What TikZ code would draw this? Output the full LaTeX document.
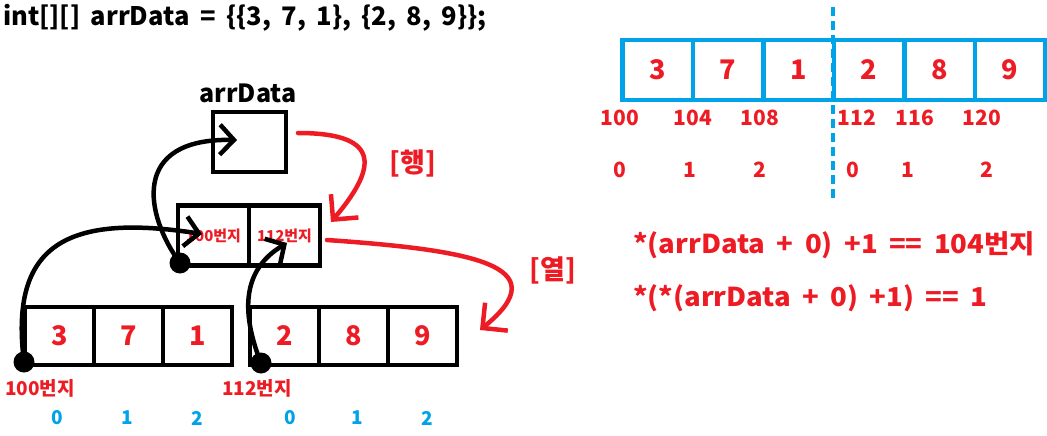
\documentclass[tikz,border=0pt]{standalone}
\usepackage{fontspec}
\setmainfont{Noto Sans CJK KR}
\newfontfamily\wfont{Noto Sans CJK KR}[WordSpace=1.8, FakeStretch=1.06]
\newfontfamily\tfont{Noto Sans CJK KR}[WordSpace=1.8]
\usetikzlibrary{arrows.meta}
\definecolor{pred}{RGB}{237,28,36}
\definecolor{pblue}{RGB}{0,162,232}
\newcommand{\fsz}[1]{\bfseries\fontsize{#1}{#1}\selectfont}
\newcommand{\wsz}[1]{\wfont\bfseries\fontsize{#1}{#1}\selectfont}
\newcommand{\tsz}[1]{\tfont\bfseries\fontsize{#1}{#1}\selectfont}
\tikzset{
  cell/.style={draw, line width=4.5pt, minimum width=69pt, minimum height=58pt, inner sep=0pt, text=pred, font=\fsz{27}},
  bcell/.style={cell, draw=pblue, minimum width=70.5pt, minimum height=60pt},
  pcell/.style={draw, line width=4.5pt, minimum width=71pt, minimum height=60pt, inner sep=0pt, text=pred, font=\fsz{15}},
  dot/.style={circle, fill=black, minimum size=21pt, inner sep=0pt},
  redtxt/.style={text=pred, inner sep=0pt},
  bluetxt/.style={text=pblue, inner sep=0pt, font=\fsz{19}},
  blk/.style={line width=4.5pt, line cap=round, line join=round, -{Straight Barb[length=14pt,width=30pt]}},
  rdl/.style={draw=pred, line width=4.5pt, line cap=round, line join=round, -{Straight Barb[length=18pt,width=36pt]}},
}
\begin{document}
\begin{tikzpicture}[x=1pt,y=-1pt]
\useasboundingbox (0,0) rectangle (1047,436);
% title
\node[anchor=west, inner sep=0pt, font=\tsz{25.5}] (title) at (3,18) {int[][] arrData = \{\{3, 7, 1\}, \{2, 8, 9\}\};};
% arrData pointer
\node[inner sep=0pt, font=\fsz{25}] (lbl) at (248,93) {arrData};
\node[draw, line width=4.5pt, minimum width=73pt, minimum height=60pt, inner sep=0pt] (ptr) at (249.5,142) {};
% row pointer box
\node[pcell] (p0) at (213.5,235.5) {100번지};
\node[pcell] (p1) at (284.5,235.5) {112번지};
% lower arrays
\node[cell] (a00) at (59.5,336) {3};
\node[cell] (a01) at (128.5,336) {7};
\node[cell] (a02) at (197.5,336) {1};
\node[cell] (a10) at (284.5,336) {2};
\node[cell] (a11) at (353.5,336) {8};
\node[cell] (a12) at (422.5,336) {9};
% dots
\node[dot] (d0) at (24,362) {};
\node[dot] (d1) at (261,363) {};
\node[dot] (dp) at (180,263) {};
% address labels
\node[redtxt, font=\fsz{19}] (ad0) at (40,388) {100번지};
\node[redtxt, font=\fsz{19}] (ad1) at (257,388) {112번지};
% blue indices
\node[bluetxt] (i00) at (57,418) {0};
\node[bluetxt] (i01) at (127,418) {1};
\node[bluetxt] (i02) at (197,418) {2};
\node[bluetxt] (i10) at (290,418) {0};
\node[bluetxt] (i11) at (357,418) {1};
\node[bluetxt] (i12) at (427,418) {2};
% right memory view
\node[bcell] (m0) at (657.5,70) {3};
\node[bcell] (m1) at (728,70) {7};
\node[bcell] (m2) at (798.5,70) {1};
\node[bcell] (m3) at (869,70) {2};
\node[bcell] (m4) at (939.5,70) {8};
\node[bcell] (m5) at (1010,70) {9};
\node[redtxt, font=\fsz{21}] (h0) at (620,118) {100};
\node[redtxt, font=\fsz{21}] (h1) at (693,118) {104};
\node[redtxt, font=\fsz{21}] (h2) at (760,118) {108};
\node[redtxt, font=\fsz{21}] (h3) at (857,118) {112};
\node[redtxt, font=\fsz{21}] (h4) at (915,118) {116};
\node[redtxt, font=\fsz{21}] (h5) at (982,118) {120};
\node[redtxt, font=\fsz{21}] (k0) at (620,170) {0};
\node[redtxt, font=\fsz{21}] (k1) at (690,170) {1};
\node[redtxt, font=\fsz{21}] (k2) at (760,170) {2};
\node[redtxt, font=\fsz{21}] (k3) at (853,170) {0};
\node[redtxt, font=\fsz{21}] (k4) at (908,170) {1};
\node[redtxt, font=\fsz{21}] (k5) at (987,170) {2};
\coordinate (dtop) at (833,7);
\coordinate (dbot) at (833,202);
\draw[pblue, line width=4pt, dash pattern=on 9pt off 5pt] (dtop) -- (dbot);
% formulas
\node[redtxt, anchor=west, font=\wsz{26}] (f1) at (633,245) {*(arrData + 0) +1 == 104번지};
\node[redtxt, anchor=west, font=\wsz{26}] (f2) at (633,298) {*(*(arrData + 0) +1) == 1};
% red labels
\node[redtxt, font=\fsz{27}] (row) at (413,163) {[행]};
\node[redtxt, font=\fsz{27}] (col) at (553,270) {[열]};
% black connectors
\coordinate (tA) at (237,140);
\coordinate (tB) at (202,234);
\coordinate (tC) at (287,243);
\draw[blk] (dp.center) .. controls (145,215) and (130,138) .. (tA);
\draw[blk] (d0.center) .. controls (10,250) and (60,212) .. (tB);
\draw[blk] (d1.center) .. controls (236,300) and (250,265) .. (tC);
% red connectors
\coordinate (r1s) at (298,133);
\coordinate (r1e) at (331,222);
\coordinate (r2s) at (327,240);
\coordinate (r2e) at (480,330);
\draw[rdl] (r1s) .. controls (385,133) and (375,170) .. (r1e);
\draw[rdl] (r2s) .. controls (470,250) and (560,265) .. (r2e);
\end{tikzpicture}
\end{document}
